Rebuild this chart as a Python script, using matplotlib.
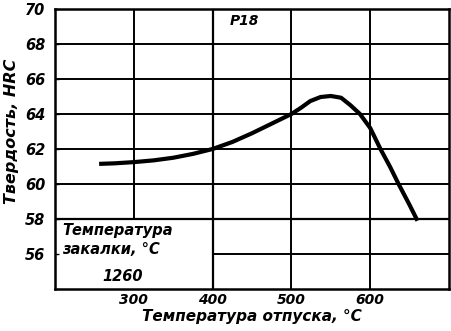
import matplotlib
matplotlib.use("Agg")
import matplotlib.pyplot as plt

# tempering temperature, deg C, and hardness HRC for steel P18
temper_t = [256, 275, 300, 325, 350, 375, 400, 425, 450, 475, 500, 512, 524,
            537, 550, 563, 575, 587, 600, 613, 625, 636, 650, 660]
hardness = [61.15, 61.18, 61.25, 61.35, 61.5, 61.72, 62.0, 62.4, 62.9, 63.45,
            64.0, 64.35, 64.74, 64.97, 65.03, 64.93, 64.5, 64.0, 63.2, 62.0,
            61.0, 60.0, 58.8, 57.9]

x_ticks = [300, 400, 500, 600]
y_ticks = [56, 58, 60, 62, 64, 66, 68, 70]

plt.rcParams["font.family"] = ["DejaVu Sans"]
plt.rcParams["font.style"] = "italic"
plt.rcParams["font.weight"] = "bold"

fig = plt.figure(figsize=(4.52, 3.31), dpi=100)
ax = fig.add_axes([55 / 452, 1 - 289 / 331, 394 / 452, 280 / 331])
ax.set_xlim(200, 700)
ax.set_ylim(54, 70)

# grid, left out where the quench-temperature box sits
ax.hlines([60, 62, 64, 66, 68], 200, 700, color="black", lw=1.4)
ax.hlines(58, 200, 700, color="black", lw=1.6)
ax.hlines(56, 400, 700, color="black", lw=1.4)
ax.vlines(300, 58, 70, color="black", lw=1.4)
ax.vlines(400, 54, 70, color="black", lw=1.6)
ax.vlines([500, 600], 54, 70, color="black", lw=1.4)

ax.plot(temper_t, hardness, color="black", lw=3.0, solid_capstyle="butt")

for s in ax.spines.values():
    s.set_linewidth(1.8)

ax.set_xticks(x_ticks)
ax.set_yticks(y_ticks)
ax.tick_params(axis="x", length=0, pad=3, labelsize=10)
ax.tick_params(axis="y", direction="in", length=3, width=1, pad=7, labelsize=10.5)

ax.text(440, 69.3, "P18", ha="center", va="center", fontsize=10)
ax.text(209, 57.37, "Температура", ha="left", va="center", fontsize=10.5)
ax.text(209, 56.28, "закалки, °C", ha="left", va="center", fontsize=10.5)
ax.text(286, 54.74, "1260", ha="center", va="center", fontsize=10.5)

fig.text(252 / 452, 1 - 316 / 331, "Температура отпуска, °C",
         ha="center", va="center", fontsize=11)
fig.text(12 / 452, 1 - 131 / 331, "Твердость, HRC", rotation=90,
         ha="center", va="center", fontsize=11.5)

fig.savefig("out.png", dpi=100)
